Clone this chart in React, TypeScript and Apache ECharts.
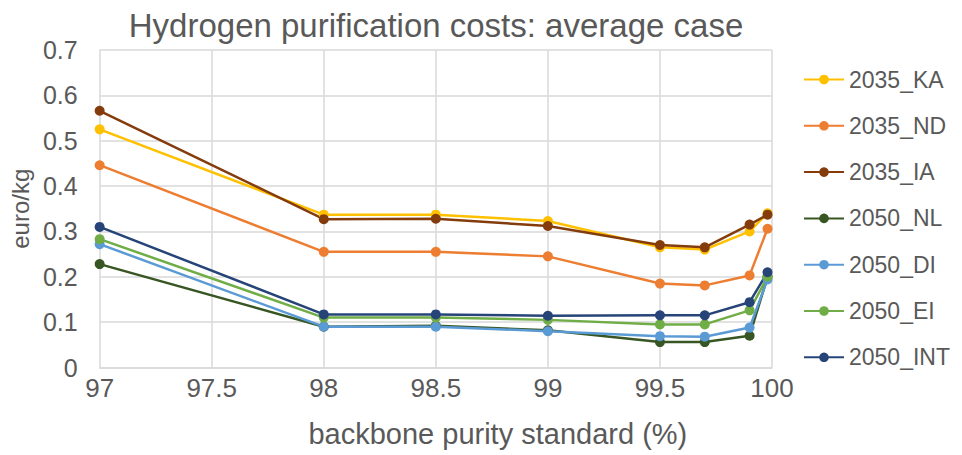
import React, { useEffect, useRef } from "react";
import * as echarts from "echarts";

const purity = [97, 98, 98.5, 99, 99.5, 99.7, 99.9, 99.98];
const seriesNames = ["2035_KA", "2035_ND", "2035_IA", "2050_NL", "2050_DI", "2050_EI", "2050_INT"];
const ka = [0.525, 0.337, 0.337, 0.323, 0.265, 0.26, 0.3, 0.34];
const nd = [0.446, 0.255, 0.255, 0.245, 0.185, 0.181, 0.203, 0.306];
const ia = [0.566, 0.327, 0.328, 0.312, 0.27, 0.265, 0.315, 0.337];
const nl = [0.228, 0.09, 0.092, 0.082, 0.056, 0.056, 0.07, 0.2];
const di = [0.272, 0.09, 0.09, 0.08, 0.069, 0.068, 0.088, 0.194];
const ei = [0.283, 0.11, 0.11, 0.105, 0.095, 0.095, 0.126, 0.2];
const int = [0.31, 0.117, 0.117, 0.114, 0.115, 0.115, 0.144, 0.21];
const values = [ka, nd, ia, nl, di, ei, int];
const colors = ["#FFC000", "#ED7D31", "#843C0C", "#375623", "#5B9BD5", "#70AD47", "#264478"];

const FONT = "'Liberation Sans', Arial, sans-serif";
const TXT = "#595959";

export default function App() {
  const ref = useRef<HTMLDivElement>(null);
  useEffect(() => {
    const chart = echarts.init(ref.current!, null, { renderer: "svg" });
    chart.setOption({
      animation: false,
      backgroundColor: "#ffffff",
      textStyle: { fontFamily: FONT },
      title: {
        text: "Hydrogen purification costs: average case",
        left: 431,
        top: 4,
        textAlign: "center",
        textStyle: { fontFamily: FONT, fontSize: 33, fontWeight: "normal", color: TXT },
      },
      legend: {
        orient: "vertical",
        left: 798,
        top: 63,
        itemWidth: 40,
        itemHeight: 12,
        itemGap: 23.3,
        data: seriesNames,
        textStyle: { fontFamily: FONT, fontSize: 23, color: TXT, lineHeight: 23 },
      },
      grid: { left: 99, right: 190, top: 50, bottom: 87.5 },
      xAxis: {
        type: "value",
        min: 97,
        max: 100,
        interval: 0.5,
        name: "backbone purity standard (%)",
        nameLocation: "middle",
        nameGap: 52,
        nameTextStyle: { fontFamily: FONT, fontSize: 29, color: TXT, padding: [0, 0, 0, 124] },
        axisLine: { show: true, lineStyle: { color: "#d9d9d9", width: 1.5 } },
        axisTick: { show: false },
        axisLabel: { fontFamily: FONT, fontSize: 26, color: TXT, margin: 7 },
        splitLine: { show: true, lineStyle: { color: "#d9d9d9", width: 1.5 } },
      },
      yAxis: {
        type: "value",
        min: 0,
        max: 0.7,
        interval: 0.1,
        name: "euro/kg",
        nameLocation: "middle",
        nameGap: 63,
        nameTextStyle: { fontFamily: FONT, fontSize: 24, color: TXT },
        axisLine: { show: false },
        axisTick: { show: false },
        axisLabel: { fontFamily: FONT, fontSize: 25, color: TXT, margin: 22 },
        splitLine: { show: true, lineStyle: { color: "#d9d9d9", width: 1.5 } },
      },
      series: seriesNames.map((n, i) => ({
        name: n,
        type: "line",
        data: purity.map((x, j) => [x, values[i][j]]),
        color: colors[i],
        symbol: "circle",
        symbolSize: 10,
        lineStyle: { width: 2.5, color: colors[i] },
        itemStyle: { color: colors[i] },
      })),
    });
    return () => chart.dispose();
  }, []);
  return (
    <div
      ref={ref}
      style={{ position: "fixed", left: 0, top: 0, width: 962, height: 455 }}
    />
  );
}
